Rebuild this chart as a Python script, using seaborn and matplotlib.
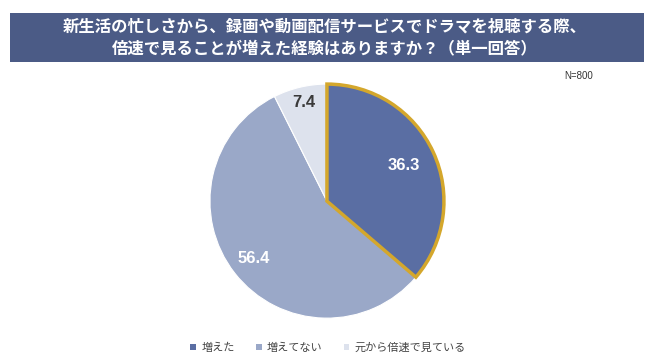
import numpy as np
import seaborn as sns
import matplotlib.pyplot as plt
from matplotlib.patches import Rectangle

sns.set_style("white")
plt.rcParams["font.family"] = ["Noto Sans CJK JP", "DejaVu Sans"]

labels = ["増えた", "増えてない", "元から倍速で見ている"]
values = [36.3, 56.4, 7.4]
colors = ["#5a6ea3", "#9aa8c8", "#dde2ed"]
title = "新生活の忙しさから、録画や動画配信サービスでドラマを視聴する際、\n倍速で見ることが増えた経験はありますか？（単一回答）"

fig = plt.figure(figsize=(6.5, 3.64), dpi=100)
fig.patch.set_facecolor("white")

# title banner
fig.patches.append(Rectangle((0.015, 0.83), 0.975, 0.135, transform=fig.transFigure,
                             facecolor="#4b5b86", edgecolor="none"))
fig.text(0.5, 0.897, title, ha="center", va="center", color="white",
         fontsize=11.8, fontweight="bold", linespacing=1.3)
fig.text(0.89, 0.79, "N=800", ha="center", va="center", fontsize=7,
         color="#333333", family="Liberation Sans")

ax = fig.add_axes([0.323, 0.126, 0.36, 0.643])
wedges, _ = ax.pie(values, colors=colors, startangle=90, counterclock=False,
                   wedgeprops=dict(edgecolor="white", linewidth=0.8))
wedges[0].set_edgecolor("#d4a72c")
wedges[0].set_linewidth(2.5)
wedges[0].set_zorder(3)
ax.set_aspect("auto")
ax.set_xlim(-1, 1)
ax.set_ylim(-1, 1)

dists = [0.72, 0.8, 0.87]
txt_colors = ["white", "white", "#3a3a3a"]
for w, v, d, c in zip(wedges, values, dists, txt_colors):
    ang = np.deg2rad((w.theta1 + w.theta2) / 2)
    ax.text(d * np.cos(ang), d * np.sin(ang), f"{v}", ha="center", va="center",
            fontsize=12, fontweight="bold", color=c, family="Liberation Sans", zorder=5)

handles = [Rectangle((0, 0), 1, 1, facecolor=c, edgecolor="none") for c in colors]
fig.legend(handles, labels, loc="center", bbox_to_anchor=(0.505, 0.045), ncol=3,
           frameon=False, fontsize=8, handlelength=0.5, handleheight=0.5,
           handletextpad=0.5, columnspacing=1.9, labelcolor="#444444")

fig.savefig("out.png", dpi=100)
